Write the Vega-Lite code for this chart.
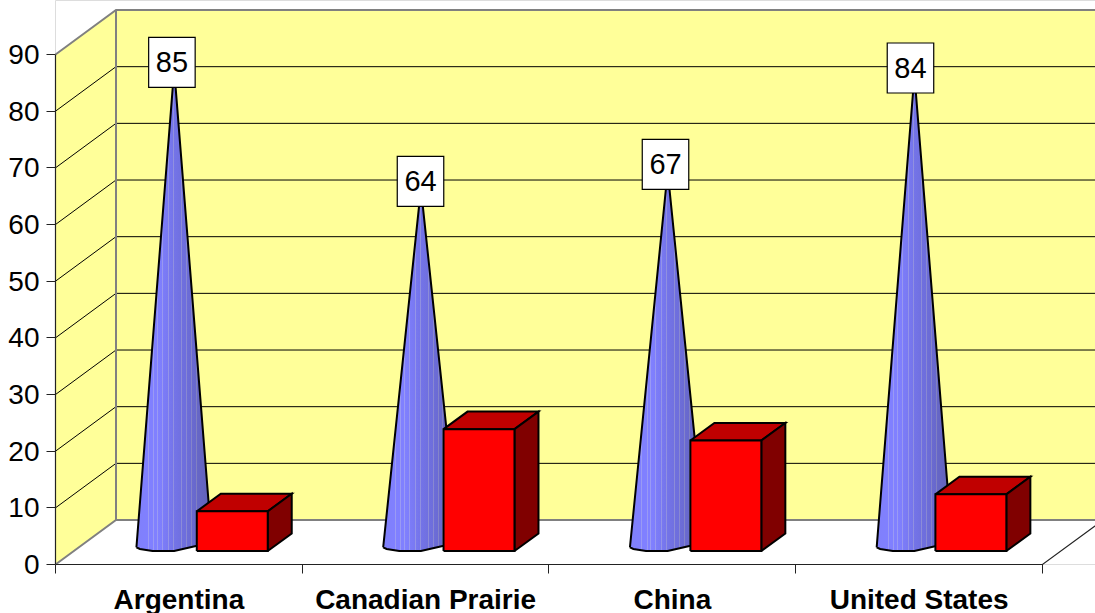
{
  "$schema": "https://vega.github.io/schema/vega-lite/v6.json",
  "autosize": {"type": "none"},
  "padding": {"left": 55, "top": 0, "right": 0, "bottom": 49},
  "width": 1040,
  "height": 564,
  "background": "white",
  "datasets": {
    "walls": [
      {"part": "side", "ord": 1, "x": 0, "y": 0},
      {"part": "side", "ord": 2, "x": 0, "y": 90},
      {"part": "side", "ord": 3, "x": 0.2452, "y": 97.85},
      {"part": "side", "ord": 4, "x": 0.2452, "y": 7.85},
      {"part": "back", "ord": 1, "x": 0.2452, "y": 7.85},
      {"part": "back", "ord": 2, "x": 0.2452, "y": 97.85},
      {"part": "back", "ord": 3, "x": 4.2452, "y": 97.85},
      {"part": "back", "ord": 4, "x": 4.2452, "y": 7.85}
    ],
    "grid": [
      {"level": 10, "ord": 1, "x": 0, "y": 10}, {"level": 10, "ord": 2, "x": 0.2452, "y": 17.85}, {"level": 10, "ord": 3, "x": 4.2452, "y": 17.85},
      {"level": 20, "ord": 1, "x": 0, "y": 20}, {"level": 20, "ord": 2, "x": 0.2452, "y": 27.85}, {"level": 20, "ord": 3, "x": 4.2452, "y": 27.85},
      {"level": 30, "ord": 1, "x": 0, "y": 30}, {"level": 30, "ord": 2, "x": 0.2452, "y": 37.85}, {"level": 30, "ord": 3, "x": 4.2452, "y": 37.85},
      {"level": 40, "ord": 1, "x": 0, "y": 40}, {"level": 40, "ord": 2, "x": 0.2452, "y": 47.85}, {"level": 40, "ord": 3, "x": 4.2452, "y": 47.85},
      {"level": 50, "ord": 1, "x": 0, "y": 50}, {"level": 50, "ord": 2, "x": 0.2452, "y": 57.85}, {"level": 50, "ord": 3, "x": 4.2452, "y": 57.85},
      {"level": 60, "ord": 1, "x": 0, "y": 60}, {"level": 60, "ord": 2, "x": 0.2452, "y": 67.85}, {"level": 60, "ord": 3, "x": 4.2452, "y": 67.85},
      {"level": 70, "ord": 1, "x": 0, "y": 70}, {"level": 70, "ord": 2, "x": 0.2452, "y": 77.85}, {"level": 70, "ord": 3, "x": 4.2452, "y": 77.85},
      {"level": 80, "ord": 1, "x": 0, "y": 80}, {"level": 80, "ord": 2, "x": 0.2452, "y": 87.85}, {"level": 80, "ord": 3, "x": 4.2452, "y": 87.85}
    ],
    "wallEdges": [
      {"edge": "top", "ord": 1, "x": 0, "y": 90}, {"edge": "top", "ord": 2, "x": 0.2452, "y": 97.85}, {"edge": "top", "ord": 3, "x": 4.2452, "y": 97.85},
      {"edge": "corner", "ord": 1, "x": 0.2452, "y": 97.85}, {"edge": "corner", "ord": 2, "x": 0.2452, "y": 7.85},
      {"edge": "bottom", "ord": 1, "x": 0, "y": 0}, {"edge": "bottom", "ord": 2, "x": 0.2452, "y": 7.85}, {"edge": "bottom", "ord": 3, "x": 4.2452, "y": 7.85}
    ],
    "frame": [
      {"edge": "valueAxis", "ord": 1, "x": 0, "y": 90}, {"edge": "valueAxis", "ord": 2, "x": 0, "y": 0},
      {"edge": "floor", "ord": 1, "x": 0, "y": 0}, {"edge": "floor", "ord": 2, "x": 4, "y": 0}, {"edge": "floor", "ord": 3, "x": 4.2452, "y": 7.85}
    ],
    "cones": [
      {"region": "Argentina", "ord": 1, "x": 0.33, "y": 0.65}, {"region": "Argentina", "ord": 2, "x": 0.344, "y": 0.35}, {"region": "Argentina", "ord": 3, "x": 0.395, "y": 0}, {"region": "Argentina", "ord": 4, "x": 0.483, "y": 0}, {"region": "Argentina", "ord": 5, "x": 0.571, "y": 0.88}, {"region": "Argentina", "ord": 6, "x": 0.636, "y": 1.2}, {"region": "Argentina", "ord": 7, "x": 0.483, "y": 85}, {"region": "Argentina", "ord": 8, "x": 0.33, "y": 0.65},
      {"region": "Canadian Prairie", "ord": 1, "x": 1.33, "y": 0.65}, {"region": "Canadian Prairie", "ord": 2, "x": 1.344, "y": 0.35}, {"region": "Canadian Prairie", "ord": 3, "x": 1.395, "y": 0}, {"region": "Canadian Prairie", "ord": 4, "x": 1.483, "y": 0}, {"region": "Canadian Prairie", "ord": 5, "x": 1.571, "y": 0.88}, {"region": "Canadian Prairie", "ord": 6, "x": 1.636, "y": 1.2}, {"region": "Canadian Prairie", "ord": 7, "x": 1.483, "y": 64}, {"region": "Canadian Prairie", "ord": 8, "x": 1.33, "y": 0.65},
      {"region": "China", "ord": 1, "x": 2.33, "y": 0.65}, {"region": "China", "ord": 2, "x": 2.344, "y": 0.35}, {"region": "China", "ord": 3, "x": 2.395, "y": 0}, {"region": "China", "ord": 4, "x": 2.483, "y": 0}, {"region": "China", "ord": 5, "x": 2.571, "y": 0.88}, {"region": "China", "ord": 6, "x": 2.636, "y": 1.2}, {"region": "China", "ord": 7, "x": 2.483, "y": 67}, {"region": "China", "ord": 8, "x": 2.33, "y": 0.65},
      {"region": "United States", "ord": 1, "x": 3.33, "y": 0.65}, {"region": "United States", "ord": 2, "x": 3.344, "y": 0.35}, {"region": "United States", "ord": 3, "x": 3.395, "y": 0}, {"region": "United States", "ord": 4, "x": 3.483, "y": 0}, {"region": "United States", "ord": 5, "x": 3.571, "y": 0.88}, {"region": "United States", "ord": 6, "x": 3.636, "y": 1.2}, {"region": "United States", "ord": 7, "x": 3.483, "y": 84}, {"region": "United States", "ord": 8, "x": 3.33, "y": 0.65}
    ],
    "barTop": [
      {"region": "Argentina", "ord": 1, "x": 0.5746, "y": 7}, {"region": "Argentina", "ord": 2, "x": 0.6719, "y": 10.1}, {"region": "Argentina", "ord": 3, "x": 0.9594, "y": 10.1}, {"region": "Argentina", "ord": 4, "x": 0.8621, "y": 7}, {"region": "Argentina", "ord": 5, "x": 0.5746, "y": 7},
      {"region": "Canadian Prairie", "ord": 1, "x": 1.5746, "y": 21.5}, {"region": "Canadian Prairie", "ord": 2, "x": 1.6719, "y": 24.6}, {"region": "Canadian Prairie", "ord": 3, "x": 1.9594, "y": 24.6}, {"region": "Canadian Prairie", "ord": 4, "x": 1.8621, "y": 21.5}, {"region": "Canadian Prairie", "ord": 5, "x": 1.5746, "y": 21.5},
      {"region": "China", "ord": 1, "x": 2.575, "y": 19.5}, {"region": "China", "ord": 2, "x": 2.6723, "y": 22.6}, {"region": "China", "ord": 3, "x": 2.9598, "y": 22.6}, {"region": "China", "ord": 4, "x": 2.8625, "y": 19.5}, {"region": "China", "ord": 5, "x": 2.575, "y": 19.5},
      {"region": "United States", "ord": 1, "x": 3.568, "y": 10}, {"region": "United States", "ord": 2, "x": 3.6653, "y": 13.1}, {"region": "United States", "ord": 3, "x": 3.9528, "y": 13.1}, {"region": "United States", "ord": 4, "x": 3.8555, "y": 10}, {"region": "United States", "ord": 5, "x": 3.568, "y": 10}
    ],
    "barSide": [
      {"region": "Argentina", "ord": 1, "x": 0.8621, "y": 0}, {"region": "Argentina", "ord": 2, "x": 0.8621, "y": 7}, {"region": "Argentina", "ord": 3, "x": 0.9594, "y": 10.1}, {"region": "Argentina", "ord": 4, "x": 0.9594, "y": 3.1}, {"region": "Argentina", "ord": 5, "x": 0.8621, "y": 0},
      {"region": "Canadian Prairie", "ord": 1, "x": 1.8621, "y": 0}, {"region": "Canadian Prairie", "ord": 2, "x": 1.8621, "y": 21.5}, {"region": "Canadian Prairie", "ord": 3, "x": 1.9594, "y": 24.6}, {"region": "Canadian Prairie", "ord": 4, "x": 1.9594, "y": 3.1}, {"region": "Canadian Prairie", "ord": 5, "x": 1.8621, "y": 0},
      {"region": "China", "ord": 1, "x": 2.8625, "y": 0}, {"region": "China", "ord": 2, "x": 2.8625, "y": 19.5}, {"region": "China", "ord": 3, "x": 2.9598, "y": 22.6}, {"region": "China", "ord": 4, "x": 2.9598, "y": 3.1}, {"region": "China", "ord": 5, "x": 2.8625, "y": 0},
      {"region": "United States", "ord": 1, "x": 3.8555, "y": 0}, {"region": "United States", "ord": 2, "x": 3.8555, "y": 10}, {"region": "United States", "ord": 3, "x": 3.9528, "y": 13.1}, {"region": "United States", "ord": 4, "x": 3.9528, "y": 3.1}, {"region": "United States", "ord": 5, "x": 3.8555, "y": 0}
    ],
    "barFront": [
      {"region": "Argentina", "ord": 1, "x": 0.5746, "y": 0}, {"region": "Argentina", "ord": 2, "x": 0.5746, "y": 7}, {"region": "Argentina", "ord": 3, "x": 0.8621, "y": 7}, {"region": "Argentina", "ord": 4, "x": 0.8621, "y": 0}, {"region": "Argentina", "ord": 5, "x": 0.5746, "y": 0},
      {"region": "Canadian Prairie", "ord": 1, "x": 1.5746, "y": 0}, {"region": "Canadian Prairie", "ord": 2, "x": 1.5746, "y": 21.5}, {"region": "Canadian Prairie", "ord": 3, "x": 1.8621, "y": 21.5}, {"region": "Canadian Prairie", "ord": 4, "x": 1.8621, "y": 0}, {"region": "Canadian Prairie", "ord": 5, "x": 1.5746, "y": 0},
      {"region": "China", "ord": 1, "x": 2.575, "y": 0}, {"region": "China", "ord": 2, "x": 2.575, "y": 19.5}, {"region": "China", "ord": 3, "x": 2.8625, "y": 19.5}, {"region": "China", "ord": 4, "x": 2.8625, "y": 0}, {"region": "China", "ord": 5, "x": 2.575, "y": 0},
      {"region": "United States", "ord": 1, "x": 3.568, "y": 0}, {"region": "United States", "ord": 2, "x": 3.568, "y": 10}, {"region": "United States", "ord": 3, "x": 3.8555, "y": 10}, {"region": "United States", "ord": 4, "x": 3.8555, "y": 0}, {"region": "United States", "ord": 5, "x": 3.568, "y": 0}
    ],
    "labels": [
      {"region": "Argentina", "x": 0.4738, "y": 85},
      {"region": "Canadian Prairie", "x": 1.4813, "y": 64},
      {"region": "China", "x": 2.4742, "y": 67},
      {"region": "United States", "x": 3.467, "y": 84}
    ]
  },
  "encoding": {
    "x": {
      "field": "x", "type": "quantitative",
      "scale": {"domain": [0, 4.2148], "nice": false, "zero": false},
      "axis": {
        "title": null, "domain": false, "grid": false,
        "values": [0, 0.5, 1, 1.5, 2, 2.5, 3, 3.5, 4],
        "labelExpr": "datum.value == 0.5 ? 'Argentina' : datum.value == 1.5 ? 'Canadian Prairie' : datum.value == 2.5 ? 'China' : datum.value == 3.5 ? 'United States' : ''",
        "labelFont": "Liberation Sans", "labelFontSize": 28, "labelFontWeight": "bold", "labelColor": "black", "labelLimit": 400,
        "labelOverlap": false, "labelBound": false, "labelFlush": false, "labelPadding": 13,
        "tickColor": "#222222", "tickWidth": 1, "tickSize": 9,
        "tickOpacity": {"condition": {"test": "datum.value % 1 == 0", "value": 1}, "value": 0}
      }
    },
    "y": {
      "field": "y", "type": "quantitative",
      "scale": {"domain": [0, 99.53], "nice": false},
      "axis": {
        "title": null, "domain": false, "grid": false,
        "values": [0, 10, 20, 30, 40, 50, 60, 70, 80, 90],
        "labelFont": "Liberation Sans", "labelFontSize": 28, "labelColor": "black",
        "labelOverlap": false, "labelBound": false, "labelPadding": 7, "labelOffset": 1.5,
        "tickColor": "#222222", "tickWidth": 1, "tickSize": 9
      }
    },
    "order": {"field": "ord"}
  },
  "layer": [
    {
      "data": {"name": "walls"},
      "mark": {"type": "line", "fill": "#ffff99", "strokeWidth": 0, "xOffset": 0.5, "yOffset": 0.5},
      "encoding": {"detail": {"field": "part"}}
    },
    {
      "data": {"name": "grid"},
      "mark": {"type": "line", "stroke": "black", "strokeWidth": 1, "xOffset": 0.5, "yOffset": 0.5},
      "encoding": {"detail": {"field": "level"}}
    },
    {
      "data": {"name": "wallEdges"},
      "mark": {"type": "line", "stroke": "#808080", "strokeWidth": 2, "xOffset": 0.5, "yOffset": 0.5},
      "encoding": {"detail": {"field": "edge"}}
    },
    {
      "data": {"name": "frame"},
      "mark": {"type": "line", "stroke": "#222222", "strokeWidth": 1.2, "xOffset": 0.5, "yOffset": 0.5},
      "encoding": {"detail": {"field": "edge"}}
    },
    {
      "data": {"name": "cones"},
      "mark": {
        "type": "line", "stroke": "black", "strokeWidth": 2, "yOffset": -13,
        "fill": {
          "gradient": "linear", "x1": 0, "y1": 0, "x2": 1, "y2": 0,
          "stops": [
            {"offset": 0, "color": "#8080fa"},
            {"offset": 0.153, "color": "#8080ff"}, {"offset": 0.153, "color": "#9a9af4"}, {"offset": 0.166, "color": "#9a9af4"}, {"offset": 0.166, "color": "#8080ff"},
            {"offset": 0.22, "color": "#8080ff"}, {"offset": 0.22, "color": "#9a9af4"}, {"offset": 0.233, "color": "#9a9af4"}, {"offset": 0.233, "color": "#8080ff"},
            {"offset": 0.272, "color": "#8080ff"}, {"offset": 0.272, "color": "#9a9af4"}, {"offset": 0.285, "color": "#9a9af4"}, {"offset": 0.285, "color": "#8080ff"},
            {"offset": 0.338, "color": "#7e7efb"}, {"offset": 0.338, "color": "#9898f0"}, {"offset": 0.351, "color": "#9898f0"}, {"offset": 0.351, "color": "#7c7cf8"},
            {"offset": 0.417, "color": "#7979f2"}, {"offset": 0.417, "color": "#9494e8"}, {"offset": 0.43, "color": "#9494e8"}, {"offset": 0.43, "color": "#7878f0"},
            {"offset": 0.483, "color": "#7575ea"}, {"offset": 0.483, "color": "#9090e0"}, {"offset": 0.496, "color": "#9090e0"}, {"offset": 0.496, "color": "#7474e8"},
            {"offset": 0.588, "color": "#7070e0"}, {"offset": 0.588, "color": "#8c8cd8"}, {"offset": 0.601, "color": "#8c8cd8"}, {"offset": 0.601, "color": "#6f6fde"},
            {"offset": 0.654, "color": "#6e6edc"}, {"offset": 0.654, "color": "#8888d2"}, {"offset": 0.667, "color": "#8888d2"}, {"offset": 0.667, "color": "#6d6dd8"},
            {"offset": 0.72, "color": "#6b6bd4"}, {"offset": 0.72, "color": "#8484ca"}, {"offset": 0.733, "color": "#8484ca"}, {"offset": 0.733, "color": "#6a6ad0"},
            {"offset": 0.785, "color": "#6868cc"}, {"offset": 0.785, "color": "#8080c2"}, {"offset": 0.798, "color": "#8080c2"}, {"offset": 0.798, "color": "#6767c8"},
            {"offset": 1, "color": "#6060b4"}
          ]
        }
      },
      "encoding": {"detail": {"field": "region"}}
    },
    {
      "data": {"name": "barTop"},
      "mark": {"type": "line", "fill": "#c00000", "stroke": "black", "strokeWidth": 2, "yOffset": -13},
      "encoding": {"detail": {"field": "region"}}
    },
    {
      "data": {"name": "barSide"},
      "mark": {"type": "line", "fill": "#800000", "stroke": "black", "strokeWidth": 2, "yOffset": -13},
      "encoding": {"detail": {"field": "region"}}
    },
    {
      "data": {"name": "barFront"},
      "mark": {"type": "line", "fill": "#ff0000", "stroke": "black", "strokeWidth": 2, "yOffset": -13},
      "encoding": {"detail": {"field": "region"}}
    },
    {
      "data": {"name": "labels"},
      "mark": {
        "type": "point", "filled": true, "fill": "white", "opacity": 1, "stroke": "black", "strokeWidth": 1.2,
        "shape": "M-0.93,-1H0.93V1H-0.93Z", "size": 2500, "yOffset": -20
      },
      "encoding": {"order": {"value": 0}}
    },
    {
      "data": {"name": "labels"},
      "mark": {"type": "text", "font": "Liberation Sans", "fontSize": 29, "color": "black", "align": "center", "baseline": "middle", "yOffset": -19.5},
      "encoding": {"text": {"field": "y", "type": "quantitative"}, "order": {"value": 0}}
    }
  ]
}
